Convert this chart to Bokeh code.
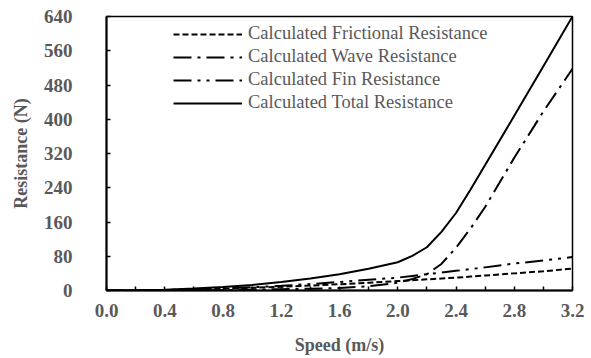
from bokeh.plotting import figure
from bokeh.models import Range1d, FixedTicker, PrintfTickFormatter, Legend, LegendItem
from bokeh.embed import file_html
from bokeh.resources import INLINE

speed = [0.0, 0.2, 0.4, 0.6, 0.8, 1.0, 1.2, 1.4, 1.6, 1.8, 2.0, 2.1, 2.2, 2.3, 2.4, 2.5, 2.6, 2.8, 3.0, 3.2]
frictional = [0, 0.3, 1.2, 2.6, 4.2, 6.3, 8.7, 11.5, 14.6, 18, 22, 24, 26, 28, 30, 32.5, 35, 40, 45, 51]
wave = [0, 0, 0, 0.5, 1, 2, 3, 4, 6, 10, 18, 27, 38, 62, 100, 145, 195, 310, 418, 518]
fin = [0, 0.3, 1.3, 2.8, 5, 7.5, 11, 15, 20, 25, 30, 34, 38, 42, 46, 50, 54, 63, 70, 78]
total = [0, 0.5, 2, 4.5, 8, 13, 20, 28, 38, 51, 66, 81, 101, 137, 181, 236, 293, 408, 524, 640]

x_ticks = [0.0, 0.4, 0.8, 1.2, 1.6, 2.0, 2.4, 2.8, 3.2]
x_minor = [0.2, 0.6, 1.0, 1.4, 1.8, 2.2, 2.6, 3.0]
y_ticks = [0, 80, 160, 240, 320, 400, 480, 560, 640]

names = ["Calculated Frictional Resistance", "Calculated Wave Resistance",
         "Calculated Fin Resistance", "Calculated Total Resistance"]

GRAY = "#595959"
FONT = "Liberation Serif"

p = figure(width=591, height=358, output_backend="svg", toolbar_location=None,
           x_range=Range1d(0, 3.2), y_range=Range1d(0, 640),
           min_border_left=106, min_border_right=19, min_border_top=16, min_border_bottom=68)
p.background_fill_color = "white"
p.border_fill_color = "white"
p.outline_line_color = "black"
p.outline_line_width = 1.5
p.xgrid.visible = False
p.ygrid.visible = False

r1 = p.line(speed, frictional, line_color="black", line_width=2, line_dash="6 3")
r2 = p.line(speed, wave, line_color="black", line_width=2, line_dash="18 6 3 6")
r3 = p.line(speed, fin, line_color="black", line_width=2, line_dash="18 6 3 6 3 6")
r4 = p.line(speed, total, line_color="black", line_width=2)

for ax in (p.xaxis[0], p.yaxis[0]):
    ax.axis_line_color = "black"
    ax.axis_line_width = 2
    ax.major_tick_in = 4
    ax.major_tick_out = 0
    ax.minor_tick_in = 4
    ax.minor_tick_out = 0
    ax.major_tick_line_width = 1.5
    ax.minor_tick_line_width = 1.5
    ax.major_label_text_font = FONT
    ax.major_label_text_font_style = "bold"
    ax.major_label_text_color = GRAY
    ax.major_label_text_font_size = "19px"
    ax.axis_label_text_font = FONT
    ax.axis_label_text_font_style = "bold"
    ax.axis_label_text_color = GRAY
    ax.axis_label_text_font_size = "18px"

p.xaxis[0].ticker = FixedTicker(ticks=x_ticks, minor_ticks=x_minor)
p.xaxis[0].formatter = PrintfTickFormatter(format="%.1f")
p.xaxis[0].axis_label = "Speed (m/s)"
p.xaxis[0].major_label_standoff = 13
p.xaxis[0].axis_label_standoff = 15

p.yaxis[0].ticker = FixedTicker(ticks=y_ticks, minor_ticks=[])
p.yaxis[0].axis_label = "Resistance (N)"
p.yaxis[0].major_label_standoff = 34
p.yaxis[0].axis_label_standoff = 10

legend = Legend(items=[LegendItem(label=n, renderers=[r]) for n, r in zip(names, [r1, r2, r3, r4])],
                location=(67, 177))
legend.glyph_width = 69
legend.glyph_height = 20
legend.label_height = 20
legend.spacing = 2
legend.padding = 0
legend.margin = 0
legend.label_standoff = 6
legend.border_line_color = None
legend.background_fill_alpha = 0
legend.label_text_font = FONT
legend.label_text_font_size = "18.5px"
legend.label_text_color = GRAY
p.add_layout(legend)

open("out.html", "w").write(file_html(p, INLINE))
